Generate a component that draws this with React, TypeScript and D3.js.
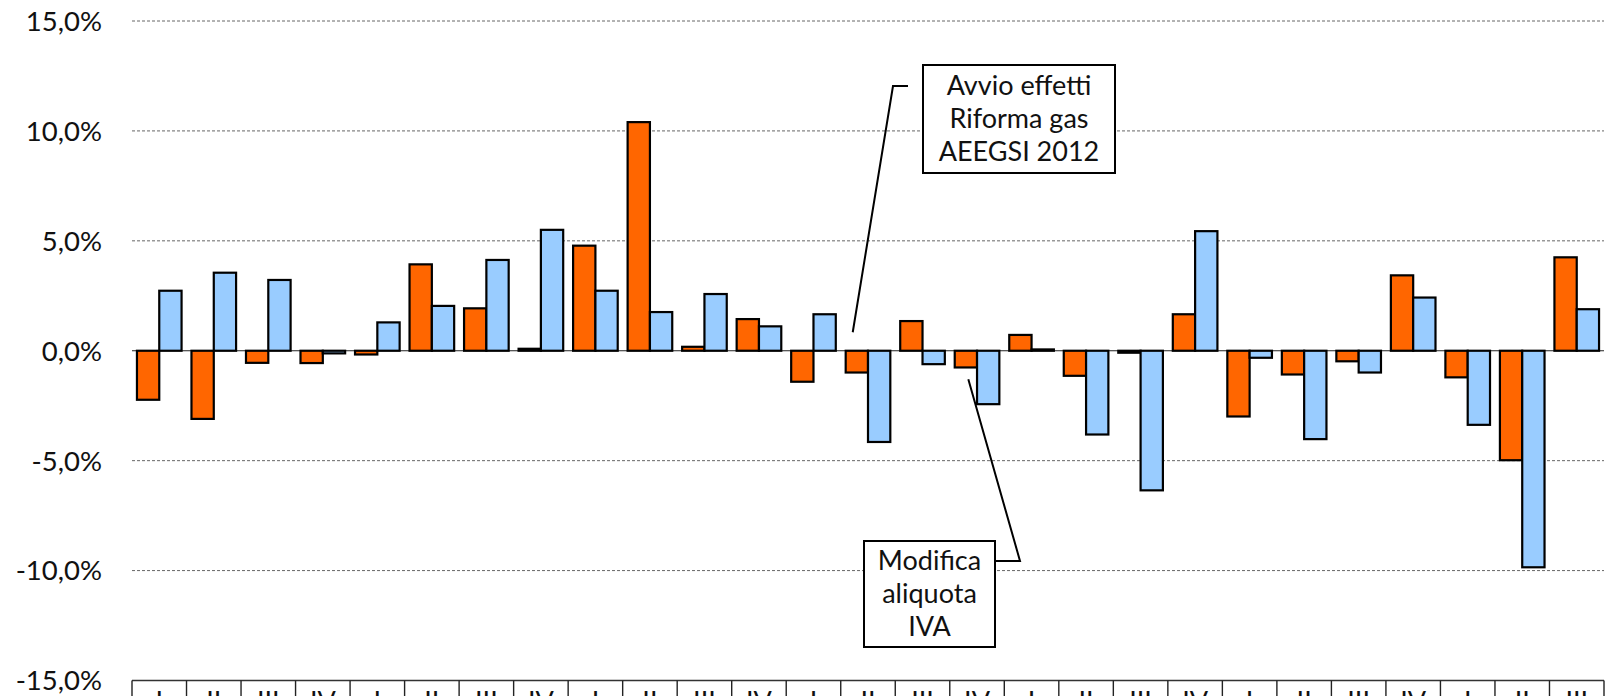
import * as d3 from 'd3';

// Quarterly change (%), two series per quarter
const categories = [
  'I', 'II', 'III', 'IV', 'I', 'II', 'III', 'IV', 'I', 'II', 'III', 'IV',
  'I', 'II', 'III', 'IV', 'I', 'II', 'III', 'IV', 'I', 'II', 'III', 'IV',
  'I', 'II', 'III',
];
const orangeValues = [
  -2.23, -3.1, -0.55, -0.56, -0.17, 3.93, 1.93, 0.09, 4.78, 10.4, 0.18, 1.44,
  -1.41, -0.99, 1.35, -0.76, 0.72, -1.14, -0.09, 1.66, -2.99, -1.08, -0.48, 3.43,
  -1.21, -4.98, 4.25,
];
const blueValues = [
  2.73, 3.55, 3.22, -0.12, 1.29, 2.04, 4.13, 5.5, 2.73, 1.76, 2.58, 1.11,
  1.66, -4.15, -0.61, -2.43, 0.06, -3.81, -6.35, 5.44, -0.32, -4.02, -0.99, 2.42,
  -3.37, -9.85, 1.89,
];
const yTicks = [-15, -10, -5, 0, 5, 10, 15];

// annotation: pointer target (category index + fraction, value) and box
const annotations = [
  {
    lines: ['Avvio effetti', 'Riforma gas', 'AEEGSI 2012'],
    cat: 13, frac: 0.22, value: 0.84,
    box: { x: 923, y: 65, w: 192, h: 108 },
    elbow: { x: 893, y: 86 }, side: 'left',
  },
  {
    lines: ['Modifica', 'aliquota', 'IVA'],
    cat: 15, frac: 0.34, value: -1.3,
    box: { x: 864, y: 541, w: 131, h: 106 },
    elbow: { x: 1020, y: 561 }, side: 'right',
  },
];

const W = 1613;
const H = 696;
const FONT = 'Lato, "Open Sans", sans-serif';
const ORANGE = '#FF6600';
const BLUE = '#99CCFF';

const fmt = (v: number) => v.toFixed(1).replace('.', ',') + '%';

export default function App() {
  const x = d3
    .scaleBand<number>()
    .domain(categories.map((_, i) => i))
    .range([132, 1604])
    .padding(0);
  const bw = x.bandwidth();
  const inner = d3
    .scaleBand<string>()
    .domain(['a', 'b'])
    .range([0, bw])
    .paddingInner(0)
    .paddingOuter(0.222);
  const y = d3.scaleLinear().domain([-15, 15]).range([680.5, 21]);

  const bars = categories.flatMap((_, i) => [
    { i, key: 'a', v: orangeValues[i], fill: ORANGE },
    { i, key: 'b', v: blueValues[i], fill: BLUE },
  ]);

  return (
    <div style={{ position: 'absolute', left: 0, top: 0 }}>
      <svg width={W} height={H} style={{ display: 'block', overflow: 'hidden' }}>
        <rect width={W} height={H} fill="#fff" />

        {/* gridlines */}
        {yTicks
          .filter((t) => t !== 0 && t !== -15)
          .map((t) => (
            <line
              key={'g' + t}
              x1={132}
              x2={1604}
              y1={y(t)}
              y2={y(t)}
              stroke="#666"
              strokeWidth={1}
              strokeDasharray="3,2"
            />
          ))}

        {/* y labels */}
        {yTicks.map((t) => (
          <text
            key={'l' + t}
            x={102}
            y={y(t)}
            dy="0.36em"
            textAnchor="end"
            fontFamily={FONT}
            fontSize={27.5}
            fill="#111"
          >
            {fmt(t)}
          </text>
        ))}

        {/* zero line */}
        <line x1={132} x2={1604} y1={y(0)} y2={y(0)} stroke="#222" strokeWidth={1.2} />

        {/* bars */}
        {bars.map((b) => {
          const bx = (x(b.i) ?? 0) + (inner(b.key) ?? 0);
          const y0 = y(0);
          const y1 = y(b.v);
          return (
            <rect
              key={b.key + b.i}
              x={bx}
              y={Math.min(y0, y1)}
              width={inner.bandwidth()}
              height={Math.abs(y1 - y0)}
              fill={b.fill}
              stroke="#000"
              strokeWidth={2.2}
            />
          );
        })}

        {/* category axis */}
        <line x1={132} x2={1604} y1={y(-15)} y2={y(-15)} stroke="#333" strokeWidth={1.4} />
        {categories.map((_, i) => (
          <line
            key={'t' + i}
            x1={x(i) ?? 0}
            x2={x(i) ?? 0}
            y1={y(-15)}
            y2={H + 10}
            stroke="#222"
            strokeWidth={1.4}
          />
        ))}
        <line x1={1604} x2={1604} y1={y(-15)} y2={H + 10} stroke="#222" strokeWidth={1.4} />
        {categories.map((c, i) => (
          <text
            key={'c' + i}
            x={(x(i) ?? 0) + bw / 2}
            y={711}
            textAnchor="middle"
            fontFamily={FONT}
            fontSize={27}
            fill="#111"
          >
            {c}
          </text>
        ))}

        {/* annotations */}
        {annotations.map((a, k) => {
          const px = (x(a.cat) ?? 0) + bw * a.frac;
          const py = y(a.value);
          const startX = a.side === 'left' ? a.box.x - 15 : a.box.x + a.box.w;
          const pts: [number, number][] = [
            [startX, a.elbow.y],
            [a.elbow.x, a.elbow.y],
            [px, py],
          ];
          const lineH = 33;
          const firstBase = a.box.y + a.box.h / 2 - lineH + 9;
          return (
            <g key={'a' + k}>
              <path d={d3.line()(pts) ?? ''} fill="none" stroke="#000" strokeWidth={2} />
              <rect
                x={a.box.x}
                y={a.box.y}
                width={a.box.w}
                height={a.box.h}
                fill="#fff"
                stroke="#000"
                strokeWidth={2}
              />
              {a.lines.map((ln, j) => (
                <text
                  key={j}
                  x={a.box.x + a.box.w / 2}
                  y={firstBase + j * lineH}
                  textAnchor="middle"
                  fontFamily={FONT}
                  fontSize={27}
                  fill="#111"
                >
                  {ln}
                </text>
              ))}
            </g>
          );
        })}
      </svg>
    </div>
  );
}
